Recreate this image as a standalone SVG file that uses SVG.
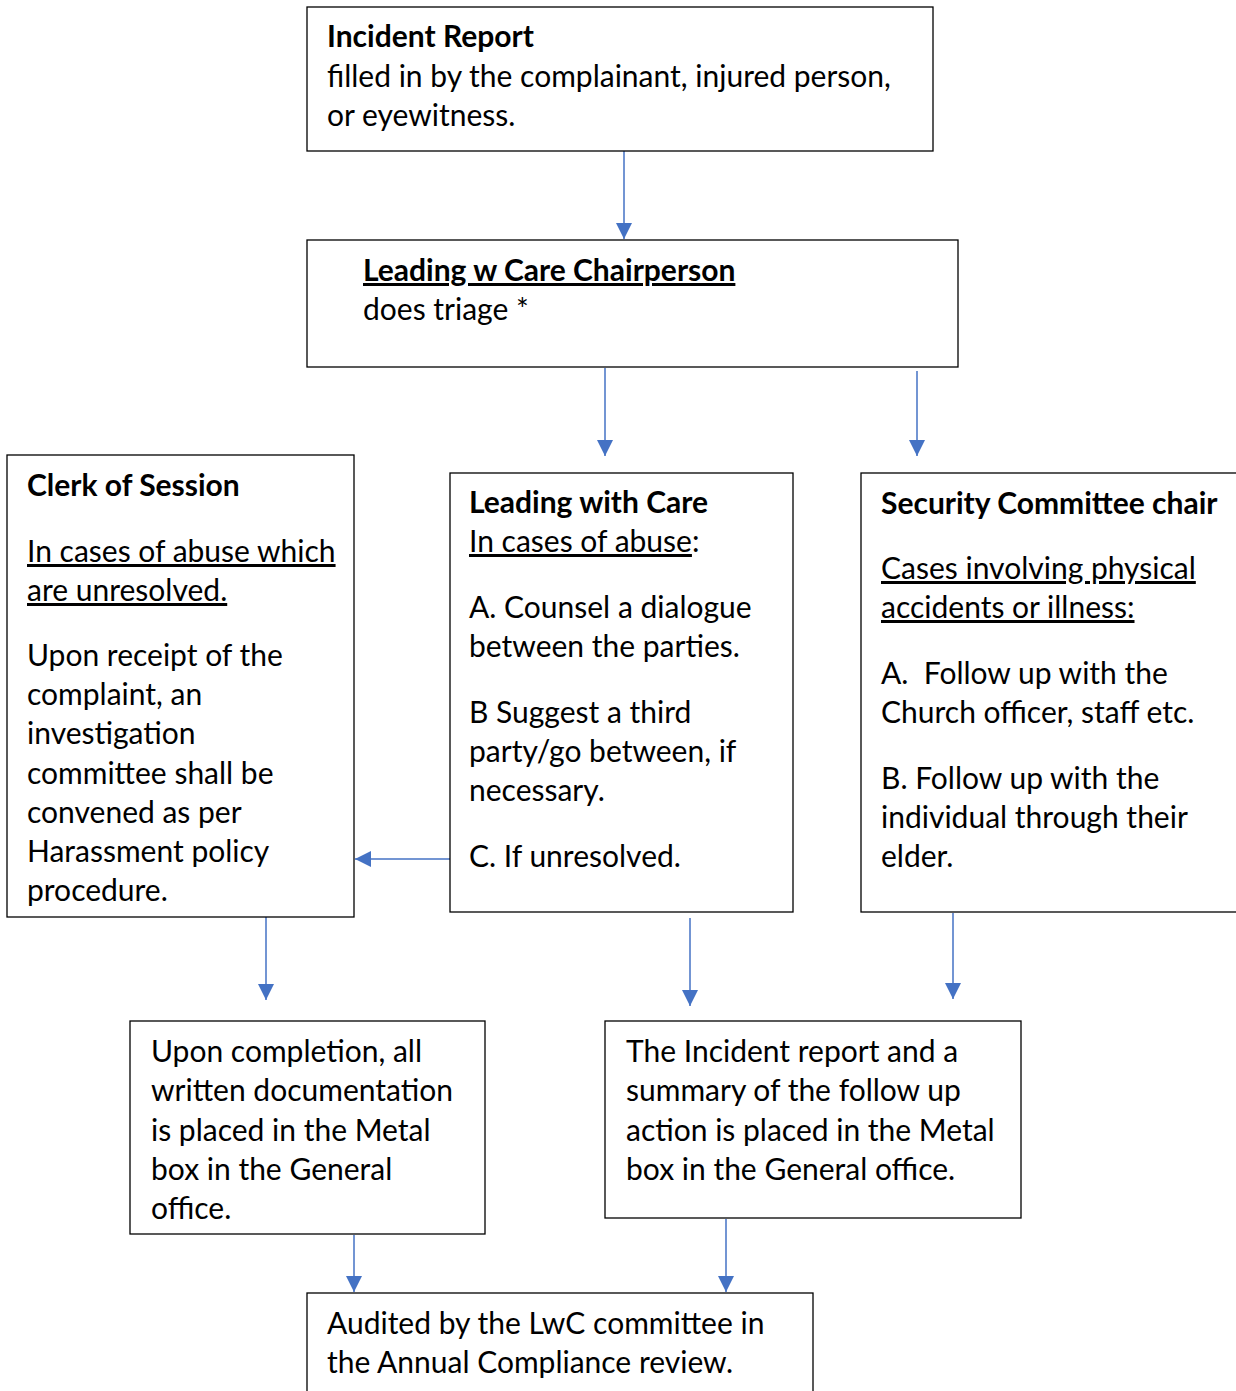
<svg xmlns="http://www.w3.org/2000/svg" width="1236" height="1391" viewBox="0 0 1236 1391">
<style>
rect.box{fill:#fff;stroke:#000;stroke-width:1.3}
text{font-family:Lato,"Carlito","Open Sans",sans-serif;font-size:30px;fill:#000}
.b{font-weight:bold}
.u{text-decoration:underline}
.c{stroke:#4472C4;stroke-width:1.5;fill:none;marker-end:url(#ah)}
</style>
<defs>
<marker id="ah" viewBox="0 0 10 10" refX="10" refY="5" markerUnits="userSpaceOnUse" markerWidth="17" markerHeight="16" orient="auto">
<path d="M0,0 L10,5 L0,10 Z" fill="#4472C4"/>
</marker>
</defs>
<rect width="1236" height="1391" fill="#fff"/>
<g id="connectors">
<line class="c" x1="624" y1="151" x2="624" y2="239"/>
<line class="c" x1="605" y1="368" x2="605" y2="456"/>
<line class="c" x1="917" y1="371" x2="917" y2="456"/>
<line class="c" x1="467" y1="859" x2="355" y2="859"/>
<line class="c" x1="266" y1="913" x2="266" y2="1000"/>
<line class="c" x1="690" y1="918" x2="690" y2="1006"/>
<line class="c" x1="953" y1="913" x2="953" y2="999"/>
<line class="c" x1="354" y1="1235" x2="354" y2="1292"/>
<line class="c" x1="726" y1="1219" x2="726" y2="1292"/>
</g>
<g id="incident-report">
<rect class="box" x="307" y="7" width="626" height="144"/>
<text x="327" y="47" class="b">Incident Report</text>
<text x="327" y="87">filled in by the complainant, injured person,</text>
<text x="327" y="126">or eyewitness.</text>
</g>
<g id="chairperson">
<rect class="box" x="307" y="240" width="651" height="127"/>
<text x="363" y="281" class="b u">Leading w Care Chairperson</text>
<text x="363" y="320">does triage *</text>
</g>
<g id="clerk">
<rect class="box" x="7" y="455" width="347" height="462"/>
<text x="27" y="496" class="b">Clerk of Session</text>
<text x="27" y="562" class="u">In cases of abuse which</text>
<text x="27" y="601" class="u">are unresolved.</text>
<text x="27" y="666">Upon receipt of the</text>
<text x="27" y="705">complaint, an</text>
<text x="27" y="744">investigation</text>
<text x="27" y="784">committee shall be</text>
<text x="27" y="823">convened as per</text>
<text x="27" y="862">Harassment policy</text>
<text x="27" y="901">procedure.</text>
</g>
<g id="leading-with-care">
<rect class="box" x="450" y="473" width="343" height="439"/>
<text x="469" y="513" class="b">Leading with Care</text>
<text x="469" y="552"><tspan class="u">In cases of abuse</tspan>:</text>
<text x="469" y="618">A. Counsel a dialogue</text>
<text x="469" y="657">between the parties.</text>
<text x="469" y="723">B Suggest a third</text>
<text x="469" y="762">party/go between, if</text>
<text x="469" y="801">necessary.</text>
<text x="469" y="867">C. If unresolved.</text>
</g>
<g id="security">
<rect class="box" x="861" y="473" width="390" height="439"/>
<text x="881" y="514" class="b">Security Committee chair</text>
<text x="881" y="579" class="u">Cases involving physical</text>
<text x="881" y="618" class="u">accidents or illness:</text>
<text x="881" y="684" xml:space="preserve">A.  Follow up with the</text>
<text x="881" y="723">Church officer, staff etc.</text>
<text x="881" y="789">B. Follow up with the</text>
<text x="881" y="828">individual through their</text>
<text x="881" y="867">elder.</text>
</g>
<g id="completion">
<rect class="box" x="130" y="1021" width="355" height="213"/>
<text x="151" y="1062">Upon completion, all</text>
<text x="151" y="1101">written documentation</text>
<text x="151" y="1141">is placed in the Metal</text>
<text x="151" y="1180">box in the General</text>
<text x="151" y="1219">office.</text>
</g>
<g id="summary">
<rect class="box" x="605" y="1021" width="416" height="197"/>
<text x="626" y="1062">The Incident report and a</text>
<text x="626" y="1101">summary of the follow up</text>
<text x="626" y="1141">action is placed in the Metal</text>
<text x="626" y="1180">box in the General office.</text>
</g>
<g id="audit">
<rect class="box" x="307" y="1293" width="506" height="110"/>
<text x="327" y="1334">Audited by the LwC committee in</text>
<text x="327" y="1373">the Annual Compliance review.</text>
</g>
</svg>
